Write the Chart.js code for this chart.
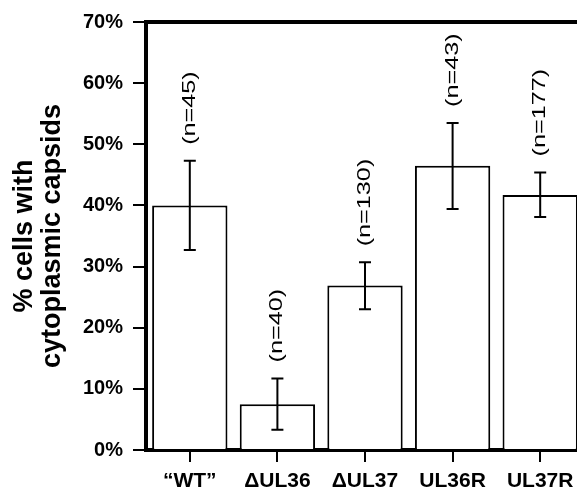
<!DOCTYPE html>
<html>
<head>
<meta charset="utf-8">
<script src="https://cdn.jsdelivr.net/npm/chart.js@4/dist/chart.umd.min.js"></script>
<style>
  html, body { margin: 0; padding: 0; background: #fff; overflow: hidden; }
</style>
</head>
<body>
<canvas id="capsidChart" width="590" height="493"></canvas>
<script>
// data
const strains = ['\u201cWT\u201d', '\u0394UL36', '\u0394UL37', 'UL36R', 'UL37R'];
const percentCells = [40.0, 7.5, 26.9, 46.5, 41.7];
const errLow = [32.7, 3.3, 23.0, 39.4, 38.1];
const errHigh = [47.3, 11.7, 30.7, 53.5, 45.4];
const cellCounts = ['(n=45)', '(n=40)', '(n=130)', '(n=43)', '(n=177)'];
const yTicks = [0, 10, 20, 30, 40, 50, 60, 70];

// error bars + rotated n labels
const errorBarPlugin = {
    id: 'errorBars',
    afterDatasetsDraw(chart) {
        const ctx = chart.ctx;
        const xs = chart.scales.x;
        const ys = chart.scales.y;
        ctx.save();
        ctx.strokeStyle = '#000';
        ctx.lineWidth = 2;
        strains.forEach((s, i) => {
            const x = xs.getPixelForValue(i);
            const yHi = ys.getPixelForValue(errHigh[i]);
            const yLo = ys.getPixelForValue(errLow[i]);
            ctx.beginPath();
            ctx.moveTo(x, yHi);
            ctx.lineTo(x, yLo);
            ctx.moveTo(x - 6, yHi);
            ctx.lineTo(x + 6, yHi);
            ctx.moveTo(x - 6, yLo);
            ctx.lineTo(x + 6, yLo);
            ctx.stroke();

            // sample size, written bottom to top
            ctx.save();
            ctx.translate(x, yHi - 16);
            ctx.rotate(-Math.PI / 2);
            ctx.scale(1.4, 1);
            ctx.fillStyle = '#000';
            ctx.font = '18px "Liberation Sans", Arial, sans-serif';
            ctx.textAlign = 'left';
            ctx.textBaseline = 'middle';
            ctx.fillText(cellCounts[i], 0, 0);
            ctx.restore();
        });
        ctx.restore();
    }
};

const ctx = document.getElementById('capsidChart').getContext('2d');
const capsidChart = new Chart(ctx, {
    type: 'bar',
    data: {
        labels: strains,
        datasets: [{
            data: percentCells,
            backgroundColor: '#fff',
            borderColor: '#000',
            borderWidth: 2,
            barPercentage: 0.86,
            categoryPercentage: 1
        }]
    },
    options: {
        responsive: false,
        animation: false,
        layout: { padding: { top: 18, right: 6, left: 0, bottom: 0 } },
        plugins: {
            legend: { display: false },
            tooltip: { enabled: false }
        },
        scales: {
            x: {
                position: 'bottom',
                afterFit: s => { s.height = 43; },
                grid: { offset: false, drawOnChartArea: false, tickLength: 12, lineWidth: 2, color: '#000' },
                border: { display: true, width: 4, color: '#000' },
                ticks: {
                    color: '#000',
                    padding: 7,
                    font: { family: '"Liberation Sans", Arial, sans-serif', size: 21, weight: 'bold' }
                }
            },
            x2: {
                type: 'category',
                labels: strains,
                position: 'top',
                afterFit: s => { s.height = 0; },
                grid: { display: false },
                ticks: { display: false },
                border: { display: true, width: 4, color: '#000' }
            },
            y: {
                min: 0,
                max: 70,
                afterFit: s => { s.width = 146; },
                afterBuildTicks: s => { s.ticks = yTicks.map(v => ({ value: v })); },
                grid: { drawOnChartArea: false, tickLength: 13, lineWidth: 2, color: '#000' },
                border: { display: true, width: 4, color: '#000' },
                ticks: {
                    color: '#000',
                    padding: 10,
                    font: { family: '"Liberation Sans", Arial, sans-serif', size: 20, weight: 'bold' },
                    callback: v => v + '%'
                },
                title: {
                    display: true,
                    text: ['% cells with', 'cytoplasmic capsids'],
                    color: '#000',
                    padding: { top: 11, bottom: 0 },
                    font: { family: '"Liberation Sans", Arial, sans-serif', size: 27, weight: 'bold', lineHeight: 1.03 }
                }
            }
        }
    },
    plugins: [errorBarPlugin]
});
</script>
</body>
</html>
